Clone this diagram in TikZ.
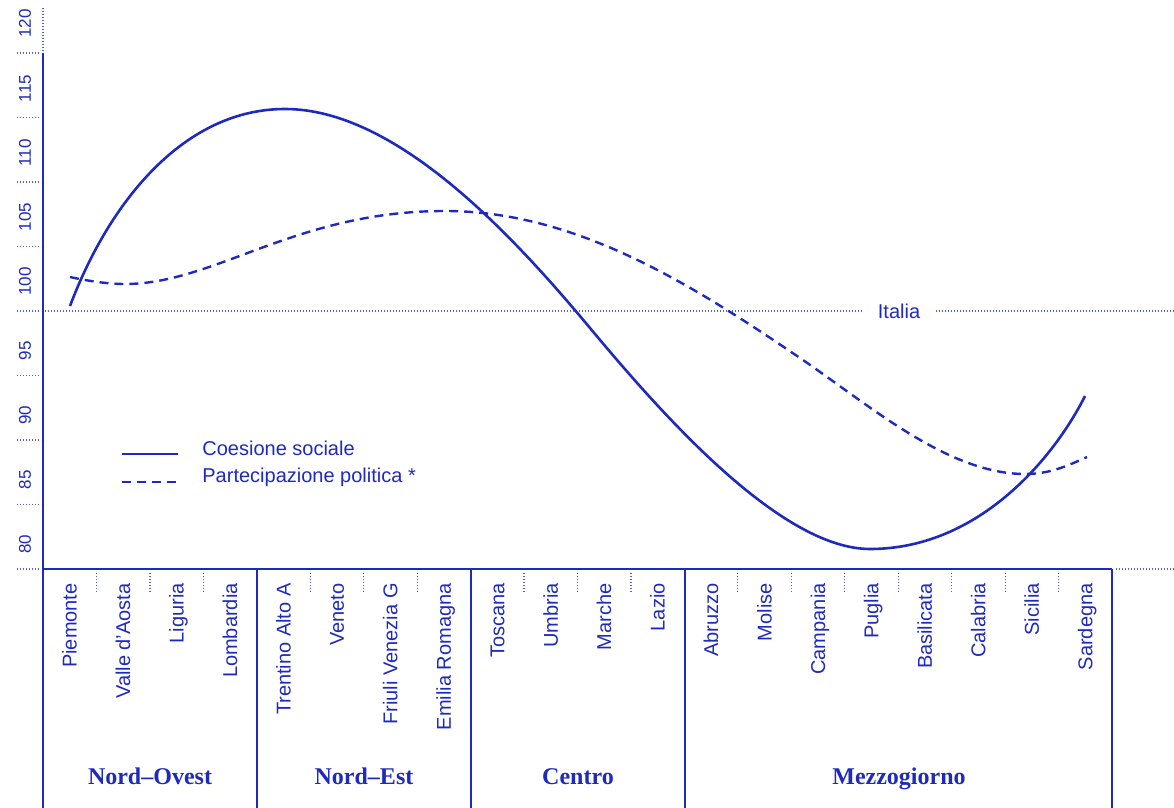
\documentclass[tikz,border=0pt]{standalone}
\usepackage{fontspec}
\setmainfont{Liberation Serif}
\setsansfont{Liberation Sans}
\usetikzlibrary{positioning}
\definecolor{azzurro}{RGB}{30,42,190}

\begin{document}
\begin{tikzpicture}[%
    x=0.5pt, y=-0.5pt,          % one unit = one pixel, y downwards
    every node/.style={text=azzurro, font=\sffamily\fontsize{10}{12}\selectfont},
    asse/.style={azzurro, line width=1pt},
    puntini/.style={azzurro!75, line width=0.6pt, dash pattern=on 0.6pt off 0.9pt},
    coesione/.style={azzurro, line width=1.3pt},
    partecipazione/.style={azzurro, line width=1.2pt, dash pattern=on 4.5pt off 3pt},
    regione/.style={rotate=90, anchor=base east, inner sep=0pt},
    area/.style={anchor=base, font=\rmfamily\bfseries\fontsize{12}{14}\selectfont}
    ]
    \useasboundingbox (0,0) rectangle (1174,808);

    % asse verticale
    \draw[puntini] (43,8) -- (43,53);
    \draw[asse] (43,53) -- (43,808);
    \foreach \v [count=\k from 0] in {120,115,110,105,100,95,90,85,80} {
        \pgfmathsetmacro{\yt}{53+64.5*\k}
        \draw[puntini] (17,\yt) -- (40,\yt);
        \node[rotate=90, anchor=west, inner sep=0pt, font=\sffamily\fontsize{8.5}{10}\selectfont] (t\v) at (25,\yt-15) {\v};
    }

    % linea Italia
    \node[inner sep=7.5pt] (italia) at (899,311) {Italia};
    \draw[puntini] (45,311) -- (italia.west);
    \draw[puntini] (italia.east) -- (1174,311);

    % tabella regioni
    \draw[asse] (43,569) -- (1112,569);
    \draw[puntini] (1116,569) -- (1174,569);
    \foreach \xs in {257,471,685,1112}
        \draw[asse] (\xs,569) -- (\xs,808);
    \foreach \k in {1,2,3,5,6,7,9,10,11,13,14,15,16,17,18,19}
        \draw[puntini] ({43+53.45*\k},573) -- ({43+53.45*\k},592);
    \foreach \r [count=\i] in {Piemonte,Valle d'Aosta,Liguria,Lombardia,Trentino Alto A,Veneto,Friuli Venezia G,Emilia Romagna,Toscana,Umbria,Marche,Lazio,Abruzzo,Molise,Campania,Puglia,Basilicata,Calabria,Sicilia,Sardegna}
        \node[regione] (r\i) at ({43+53.45*(\i-0.5)+7},583) {\r};

    \node[area] (nordovest) at (150,784) {Nord--Ovest};
    \node[area] (nordest) at (364,784) {Nord--Est};
    \node[area] (centro) at (578,784) {Centro};
    \node[area] (mezzogiorno) at (899,784) {Mezzogiorno};

    % legenda
    \node[anchor=base west, inner sep=0pt] (lcoes) at (202,455) {Coesione sociale};
    \node[anchor=base west, inner sep=0pt] (lpart) at (202,482.5) {Partecipazione politica *};
    \draw[coesione] ([xshift=-40pt,yshift=0.5pt]lcoes.base west) -- ([xshift=-12pt,yshift=0.5pt]lcoes.base west);
    \draw[partecipazione] ([xshift=-40pt,yshift=0.3pt]lpart.base west) -- ([xshift=-12pt,yshift=0.3pt]lpart.base west);

    % curve
    \draw[coesione] (70,306) .. controls (110,200) and (185,109) .. (285,109)
        .. controls (395,109) and (510,232) .. (590,328)
        .. controls (660,412) and (780,549) .. (870,549)
        .. controls (980,549) and (1055,456) .. (1085,396);
    \draw[partecipazione] (70,277) .. controls (88,281) and (108,284) .. (125,284)
        .. controls (215,284) and (295,211) .. (445,211)
        .. controls (575,211) and (690,283.2) .. (800,358)
        .. controls (870,405.6) and (948,474) .. (1025,474)
        .. controls (1050,474) and (1067,466) .. (1087,457);
\end{tikzpicture}
\end{document}
